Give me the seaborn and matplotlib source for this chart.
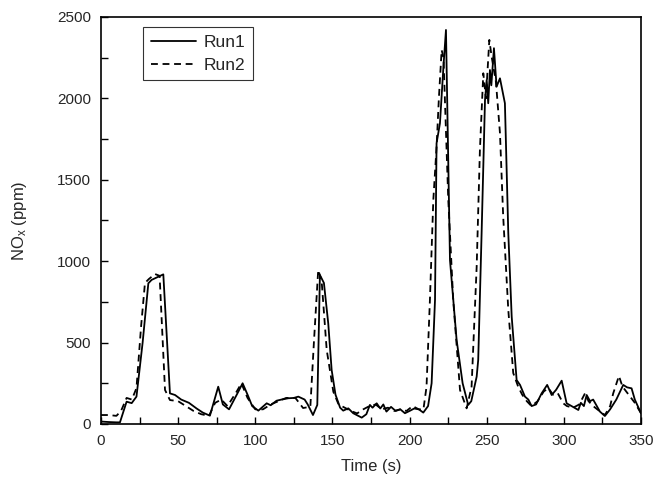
import numpy as np
import pandas as pd
import matplotlib
matplotlib.use("Agg")
import matplotlib.pyplot as plt
import seaborn as sns

run1_t = [0, 5, 10, 12.3, 16.6, 19.9, 23, 27, 30.7, 32.8, 38.2, 40.4, 44.7, 48, 52, 57, 62, 66,
          70.6, 76, 79, 83, 88, 91.8, 95, 98, 102, 107.4, 110, 113.8, 117, 121.4, 125, 127.9,
          132, 134, 137.4, 140.2, 141.9, 144.5, 147.3, 149.5, 152, 155, 157, 160.3, 163.5, 169,
          172, 174.3, 176, 178.7, 181, 183, 185, 188, 191, 194, 197, 200, 203, 206, 208.9, 212,
          214.3, 216.5, 217.5, 219.7, 222, 223.6, 226.2, 230.5, 234.4, 238, 240, 243.5, 244.5,
          246.7, 248.9, 250, 251, 252.1, 253, 254.7, 256.4, 258.6, 261.8, 264, 266.2, 269.4,
          271.6, 274.8, 277, 279.1, 282, 285.6, 289.2, 292.1, 295, 298.6, 301.8, 305, 309.4,
          311, 313, 314.8, 317, 319, 323.4, 326.6, 330, 334, 338.5, 341, 343.9, 346, 350]
run1_v = [15, 12, 10, 10, 137, 128, 168, 500, 864, 885, 909, 919, 188, 178, 150, 130, 95, 70,
          51, 229, 120, 90, 180, 250, 180, 110, 82, 127, 115, 143, 150, 158, 160, 168,
          150, 120, 55, 117, 915, 866, 618, 332, 180, 100, 82, 96, 66, 39,
          60, 117, 100, 127, 95, 120, 76, 105, 80, 90, 66, 80, 95, 90, 70, 110,
          250, 762, 1724, 1847, 2200, 2420, 1007, 516, 250, 117, 140, 291, 393,
          1171, 1990, 2113, 1970, 2174, 2080, 2308, 2072, 2123, 1970, 1171, 659, 270,
          240, 168, 150, 110, 120, 188, 240, 178, 210, 266, 127, 110, 86,
          130, 110, 178, 140, 150, 76, 49, 90, 150, 240, 225, 219, 150, 66]

run2_t = [0, 5, 10, 13, 16.6, 20, 23, 26, 28.5, 31, 35, 38, 41.5, 44.7, 50, 55, 60, 65, 70, 74,
          78, 82, 88, 91, 95, 100, 105, 110, 115, 120, 126, 131, 135.7, 138, 140.8, 143, 146.3,
          150.6, 154, 158, 162, 166, 170, 174, 178, 182, 186, 190, 194, 198, 202, 206, 209, 211,
          213.2, 215.4, 217.5, 219, 220.8, 222, 225.1, 228.3, 232.7, 237, 240.2, 243.5, 245.6,
          247.8, 249.5, 251.7, 253.2, 256, 258.6, 260.7, 264, 267.2, 270.4, 273, 276, 279, 283,
          287, 290, 293, 296, 299.6, 302, 306, 310, 313.7, 316, 319, 323, 326.6, 330, 332,
          335.7, 338, 342, 346, 350]
run2_v = [55, 55, 50, 80, 160, 150, 220, 600, 866, 890, 921, 910, 209, 147, 140, 110, 80, 60, 50, 130,
          150, 110, 200, 250, 160, 90, 90, 120, 140, 160, 160, 98, 106, 500, 946, 880, 455,
          198, 120, 100, 80, 65, 90, 110, 120, 90, 100, 80, 90, 80, 110, 90, 90, 229,
          762, 1376, 1700, 2000, 2297, 2250, 1376, 762, 209, 96, 229, 966, 1683,
          2154, 2000, 2359, 2256, 2100, 1786, 1273, 700, 313, 229, 180, 140, 110, 140,
          200, 220, 180, 190, 127, 110, 100, 120, 188, 140, 110, 80, 55, 110, 188,
          295, 230, 180, 130, 66]

df = pd.concat([
    pd.DataFrame({"Time": run1_t, "NOx": run1_v, "Run": "Run1"}),
    pd.DataFrame({"Time": run2_t, "NOx": run2_v, "Run": "Run2"}),
], ignore_index=True)

sns.set_style("ticks")
plt.rcParams["font.family"] = ["Liberation Sans", "DejaVu Sans"]
plt.rcParams["mathtext.fontset"] = "custom"
plt.rcParams["mathtext.rm"] = "Liberation Sans"
plt.rcParams["mathtext.it"] = "Liberation Sans"
plt.rcParams["xtick.direction"] = "in"
plt.rcParams["ytick.direction"] = "in"

fig = plt.figure(figsize=(6.54, 4.8), dpi=100)
ax = fig.add_axes([0.1544, 0.1167, 0.8257, 0.848])

sns.lineplot(data=df, x="Time", y="NOx", hue="Run", style="Run",
             palette={"Run1": "black", "Run2": "black"},
             dashes={"Run1": "", "Run2": (3.8, 2.6)},
             linewidth=1.3, sort=False, estimator=None, ax=ax, legend=True)

ax.set_xlim(0, 350)
ax.set_ylim(0, 2500)
ax.set_xticks(np.arange(0, 351, 50))
ax.set_xticks(np.arange(0, 351, 25), minor=True)
ax.set_yticks(np.arange(0, 2501, 500))
ax.set_yticks(np.arange(0, 2501, 250), minor=True)
ax.tick_params(axis="both", which="both", direction="in", top=False, right=False,
               labelsize=11, color="black")
ax.tick_params(which="major", length=5, width=1, pad=7)
ax.tick_params(which="minor", length=5, width=1)
for s in ax.spines.values():
    s.set_visible(True)
    s.set_linewidth(1.2)
    s.set_color("black")

ax.set_xlabel("Time (s)", fontsize=12, labelpad=8)
ax.set_ylabel(r"NO$_\mathrm{x}$ (ppm)", fontsize=12)
ax.yaxis.set_label_coords(-0.133, 0.5)

handles, labels = ax.get_legend_handles_labels()
leg = ax.legend(handles, labels, loc="upper left", bbox_to_anchor=(0.078, 0.976),
                frameon=True, fancybox=False, edgecolor="black", fontsize=12.5,
                handlelength=2.6, borderpad=0.45, labelspacing=0.45, handletextpad=0.45,
                borderaxespad=0)
leg.get_frame().set_linewidth(0.8)

fig.savefig("out.png", dpi=100)
